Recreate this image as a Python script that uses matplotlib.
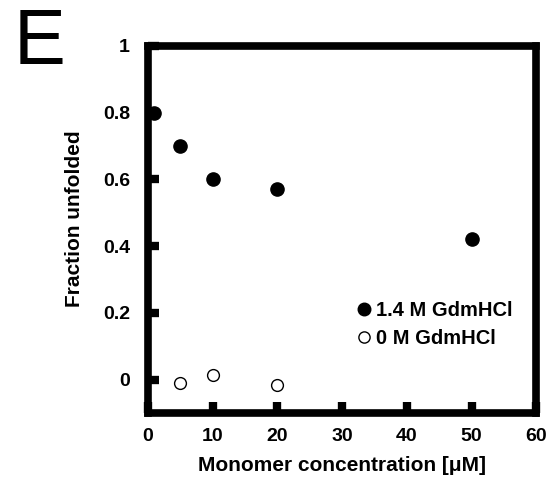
import numpy as np
import matplotlib
matplotlib.use('Agg')
import matplotlib.pyplot as plt

plt.rcParams['font.family'] = ['Liberation Sans', 'DejaVu Sans']

# 1.4 M GdmHCl
conc_gdm = [1, 5, 10, 20, 50]
frac_gdm = [0.80, 0.70, 0.60, 0.57, 0.42]
# 0 M GdmHCl
conc_0 = [5, 10, 20]
frac_0 = [-0.01, 0.015, -0.015]

xticks = [0, 10, 20, 30, 40, 50, 60]
yticks = [0, 0.2, 0.4, 0.6, 0.8, 1]

fig = plt.figure(figsize=(5.5, 4.87), dpi=100)
ax = fig.add_axes([0.269, 0.152, 0.706, 0.754])

ax.plot(conc_gdm, frac_gdm, 'o', color='k', ms=9.5, label='1.4 M GdmHCl', clip_on=False, zorder=5)
ax.plot(conc_0, frac_0, 'o', mfc='white', mec='k', mew=1.0, ms=8.5, label='0 M GdmHCl', clip_on=False, zorder=5)

ax.set_xlim(0, 60)
ax.set_ylim(-0.1, 1)
ax.set_xticks(xticks)
ax.set_yticks(yticks)
ax.set_xticklabels([str(v) for v in xticks])
ax.set_yticklabels(['0', '0.2', '0.4', '0.6', '0.8', '1'])

for s in ax.spines.values():
    s.set_linewidth(5.5)
ax.tick_params(direction='in', length=8, width=6, labelsize=14, pad=11)
ax.tick_params(axis='y', pad=13)
for lab in ax.get_xticklabels() + ax.get_yticklabels():
    lab.set_fontweight('bold')

ax.set_xlabel('Monomer concentration [μM]', fontsize=15, fontweight='bold', labelpad=8)
ax.set_ylabel('Fraction unfolded', fontsize=15, fontweight='bold')
ax.yaxis.set_label_coords(-0.165, 0.53)

ax.legend(loc='upper left', bbox_to_anchor=(0.494, 0.355), frameon=False,
          handlelength=0.6, handletextpad=0.3, labelspacing=0.45, markerscale=0.95,
          prop={'weight': 'bold', 'size': 14.5})

fig.text(0.025, 0.985, 'E', fontsize=56, va='top', ha='left')

fig.savefig('out.png', dpi=100)
